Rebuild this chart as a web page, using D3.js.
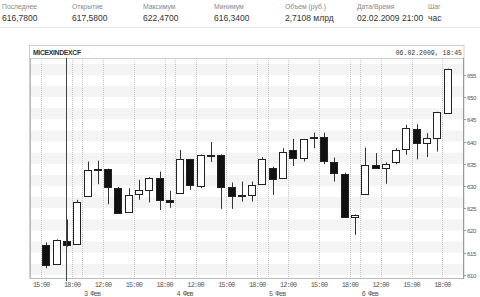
<!DOCTYPE html>
<html>
<head>
<meta charset="utf-8">
<script src="https://cdn.jsdelivr.net/npm/d3@7"></script>
<style>
  html, body { margin: 0; padding: 0; background: #fff; }
  svg { display: block; }
</style>
</head>
<body>
<script>
// header strip
const headerLabels = ["Последнее", "Открытие", "Максимум", "Минимум", "Объем (руб.)", "Дата/Время", "Шаг"];
const headerValues = ["616,7800", "617,5800", "622,4700", "616,3400", "2,7108 млрд", "02.02.2009 21:00", "час"];

// hourly candles, 2..6 Feb 2009
const dayLabels = ["2 Фев", "3 Фев", "4 Фев", "5 Фев", "6 Фев"];
const days  = [0,0,0,0, 1,1,1,1,1,1,1,1,1, 2,2,2,2,2,2,2,2,2, 3,3,3,3,3,3,3,3,3, 4,4,4,4,4,4,4,4,4];
const hours = [15,16,17,18, 10,11,12,13,14,15,16,17,18, 10,11,12,13,14,15,16,17,18,
               10,11,12,13,14,15,16,17,18, 10,11,12,13,14,15,16,17,18];
const opens  = [616.75, 612.5, 617.58, 617.1, 627.8, 633.9, 633.8, 629.65, 624.0, 628.15, 629.3, 631.9, 626.95,
                628.4, 636.0, 630.1, 637.0, 637.0, 629.7, 627.95, 627.95, 630.5,
                634.15, 631.9, 638.1, 636.2, 641.0, 641.0, 635.3, 632.7, 623.0,
                628.15, 634.7, 634.1, 635.3, 638.3, 642.85, 639.6, 640.75, 646.5];
const highs  = [617.3, 618.0, 622.47, 626.9, 635.5, 635.7, 633.9, 629.8, 629.5, 631.4, 632.0, 633.25, 628.9,
                638.1, 636.1, 637.1, 639.9, 637.1, 630.8, 631.0, 631.0, 636.5,
                634.3, 638.5, 640.6, 640.6, 642.0, 642.0, 636.4, 633.0, 623.6,
                638.65, 637.4, 635.3, 638.5, 643.75, 643.9, 641.9, 646.7, 656.4];
const lows   = [611.5, 612.3, 616.34, 617.0, 627.6, 630.4, 625.9, 623.7, 623.9, 626.9, 626.3, 624.6, 625.1,
                628.3, 629.1, 629.5, 635.4, 624.85, 624.85, 626.5, 626.5, 630.4,
                628.0, 631.7, 634.5, 635.5, 638.5, 634.9, 631.0, 622.8, 619.0,
                628.1, 633.9, 630.5, 634.9, 637.0, 636.0, 636.5, 637.75, 646.2];
const closes = [612.25, 617.9, 616.78, 626.5, 633.6, 633.6, 629.7, 624.0, 627.9, 629.1, 631.9, 626.9, 626.4,
                636.0, 630.25, 637.0, 636.85, 629.7, 627.6, 627.65, 630.2, 636.1,
                631.75, 637.7, 636.2, 640.5, 640.7, 635.5, 632.9, 623.0, 623.5,
                634.7, 634.1, 635.0, 638.1, 643.0, 639.6, 640.75, 646.6, 656.3];
const yTicks = [610, 615, 620, 625, 630, 635, 640, 645, 650, 655];
const hourLabels = [12, 15, 18];
const cursorIndex = 2;

const width = 480, height = 297;
const plot = {left: 31, right: 463, top: 58, bottom: 278};

const svg = d3.select("body").append("svg")
    .attr("width", width)
    .attr("height", height)
    .style("font-family", "'Liberation Sans', Arial, sans-serif");

// ---- header table
const colX = [2, 72, 143, 214, 285, 357, 428];
svg.append("g")
  .selectAll("text")
  .data(headerLabels)
  .join("text")
    .attr("x", (d, i) => colX[i])
    .attr("y", 9)
    .attr("font-size", 6.8)
    .attr("fill", "#888")
    .text(d => d);
svg.append("g")
  .selectAll("text")
  .data(headerValues)
  .join("text")
    .attr("x", (d, i) => colX[i])
    .attr("y", 20.5)
    .attr("font-size", 8.5)
    .attr("fill", "#333")
    .text(d => d);
svg.append("line")
    .attr("x1", 0).attr("x2", width)
    .attr("y1", 27.5).attr("y2", 27.5)
    .attr("stroke", "#e6e6e6");

// ---- panel and title bar
svg.append("rect")
    .attr("x", 29.5).attr("y", 45.5)
    .attr("width", 434.5).attr("height", 233)
    .attr("fill", "#fff")
    .attr("stroke", "#cfcfcf");
svg.append("line")
    .attr("x1", 29.5).attr("x2", 464)
    .attr("y1", 58.5).attr("y2", 58.5)
    .attr("stroke", "#cfcfcf");
svg.append("text")
    .attr("x", 33).attr("y", 54.5)
    .attr("font-size", 6.8)
    .attr("font-weight", "bold")
    .attr("letter-spacing", -0.3)
    .attr("fill", "#333")
    .text("MICEXINDEXCF");
svg.append("text")
    .attr("x", 462).attr("y", 54.5)
    .attr("text-anchor", "end")
    .attr("font-family", "'Liberation Mono', monospace")
    .attr("font-size", 6.5)
    .attr("fill", "#333")
    .text("06.02.2009, 18:45");

// ---- scales
const idx = d3.range(opens.length);
const x = d3.scaleBand()
    .domain(idx)
    .range([plot.left, plot.right])
    .paddingInner(0)
    .paddingOuter(1);
const y = d3.scaleLinear()
    .domain([609.3, 658.8])
    .range([plot.bottom, plot.top]);

// stripes
svg.append("g")
  .selectAll("rect")
  .data(yTicks)
  .join("rect")
    .attr("x", plot.left)
    .attr("width", plot.right - plot.left)
    .attr("y", d => Math.max(plot.top, y(d + 2.5)))
    .attr("height", d => y(d) - Math.max(plot.top, y(d + 2.5)))
    .attr("fill", "#f4f4f4");

// vertical grid: hour marks and day breaks
const hourMarks = idx.filter(i => hourLabels.includes(hours[i]));
const dayBreaks = idx.filter(i => i > 0 && days[i] !== days[i - 1]);
svg.append("g")
  .selectAll("line")
  .data(hourMarks.concat(dayBreaks))
  .join("line")
    .attr("x1", i => Math.round(x(i)) + 0.5)
    .attr("x2", i => Math.round(x(i)) + 0.5)
    .attr("y1", plot.top)
    .attr("y2", plot.bottom)
    .attr("stroke", "#c4c4c4")
    .attr("stroke-dasharray", "1,1");

// plot frame
svg.append("line")
    .attr("x1", plot.left - 0.5).attr("x2", plot.left - 0.5)
    .attr("y1", plot.top).attr("y2", plot.bottom)
    .attr("stroke", "#bbb");
svg.append("line")
    .attr("x1", plot.left).attr("x2", plot.right)
    .attr("y1", plot.bottom + 0.5).attr("y2", plot.bottom + 0.5)
    .attr("stroke", "#bbb");
svg.append("line")
    .attr("x1", plot.right + 0.5).attr("x2", plot.right + 0.5)
    .attr("y1", plot.top).attr("y2", plot.bottom + 1)
    .attr("stroke", "#999");

// y axis on the right
const yAxis = svg.append("g")
  .selectAll("g")
  .data(yTicks)
  .join("g")
    .attr("transform", d => `translate(${plot.right},${Math.round(y(d)) + 0.5})`);
yAxis.append("line")
    .attr("x1", 1).attr("x2", 3)
    .attr("stroke", "#999");
yAxis.append("text")
    .attr("x", 4)
    .attr("dy", "0.35em")
    .attr("font-size", 6)
    .attr("letter-spacing", -0.3)
    .attr("fill", "#555")
    .text(d => d);

// x labels
svg.append("g")
  .selectAll("text")
  .data(hourMarks)
  .join("text")
    .attr("x", i => x(i))
    .attr("y", 287)
    .attr("text-anchor", "middle")
    .attr("font-family", "'Liberation Mono', monospace")
    .attr("font-size", 6.8)
    .attr("letter-spacing", -0.8)
    .attr("fill", "#555")
    .text(i => hours[i] + ":00");
svg.append("g")
  .selectAll("text")
  .data(dayBreaks)
  .join("text")
    .attr("x", i => x(i) + 1.5)
    .attr("y", 295.5)
    .attr("font-family", "'Liberation Mono', monospace")
    .attr("font-size", 6.8)
    .attr("letter-spacing", -0.8)
    .attr("fill", "#555")
    .text(i => dayLabels[days[i]]);

// candles
const bw = 8;
const candle = svg.append("g")
  .selectAll("g")
  .data(idx)
  .join("g")
    .attr("transform", i => `translate(${Math.round(x(i) + x.bandwidth() / 2) + 0.5},0)`);
candle.append("line")
    .attr("y1", i => y(highs[i]))
    .attr("y2", i => y(lows[i]))
    .attr("stroke", "#333");
candle.append("rect")
    .attr("x", -bw / 2)
    .attr("width", bw - 1)
    .attr("y", i => Math.round(y(Math.max(opens[i], closes[i]))) + 0.5)
    .attr("height", i => Math.max(1, Math.round(Math.abs(y(opens[i]) - y(closes[i])))))
    .attr("fill", i => closes[i] >= opens[i] ? "#fff" : "#111")
    .attr("stroke", "#222");

// cursor line
svg.append("line")
    .attr("x1", Math.round(x(cursorIndex) + x.bandwidth() / 2) - 0.5)
    .attr("x2", Math.round(x(cursorIndex) + x.bandwidth() / 2) - 0.5)
    .attr("y1", plot.top)
    .attr("y2", plot.bottom + 3)
    .attr("stroke", "#444");
</script>
</body>
</html>
